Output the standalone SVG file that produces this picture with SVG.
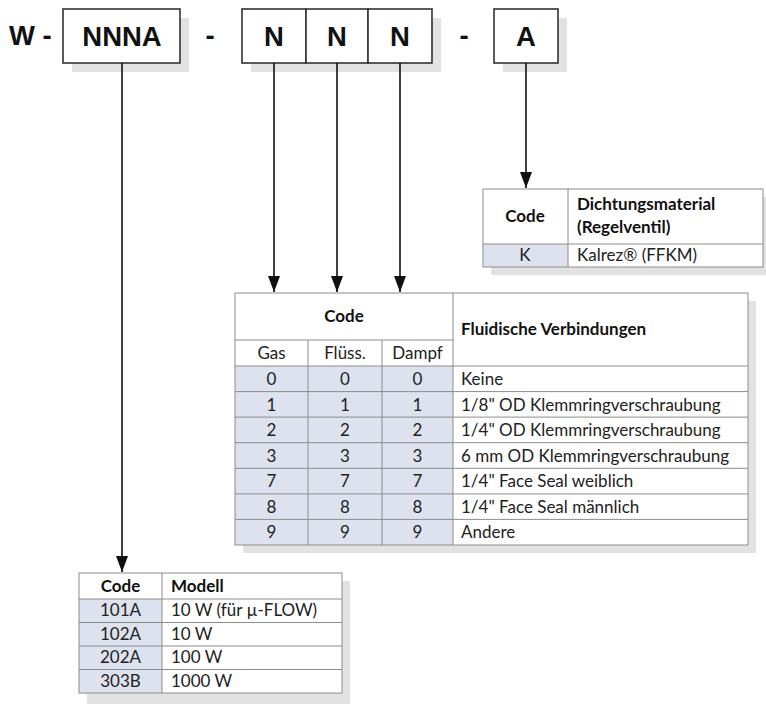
<svg xmlns="http://www.w3.org/2000/svg" width="766" height="704" viewBox="0 0 766 704">
  <defs>
    <marker id="arrow" viewBox="0 0 16 12" refX="16" refY="6" markerWidth="16" markerHeight="12" markerUnits="userSpaceOnUse" orient="auto">
      <path d="M0,0 L16,6 L0,12 Z" fill="#111"/>
    </marker>
  </defs>
  <style>
    .code-big { font-family: "Liberation Sans", Arial, sans-serif; font-weight: bold; font-size: 27.5px; fill: #111; }
    .box { fill: #fff; stroke: #333; stroke-width: 1.6; }
    .shadow { fill: #e2e2e2; }
    .grid { fill: none; stroke: #8c8c8c; stroke-width: 1; }
    .cell { fill: #fff; }
    .cell-code { fill: #dde2ee; }
    .t { font-family: Lato, "Open Sans", sans-serif; font-size: 17px; fill: #222; }
    .tb { font-family: Lato, "Open Sans", sans-serif; font-size: 17px; font-weight: bold; fill: #111; }
    .c { text-anchor: middle; }
    .conn { stroke: #111; stroke-width: 1.6; fill: none; marker-end: url(#arrow); }
  </style>
  <rect width="766" height="704" fill="#fff"/>

  <!-- order code header -->
  <g id="order-code">
    <text class="code-big" x="9" y="45">W -</text>
    <text class="code-big" x="210" y="45" text-anchor="middle">-</text>
    <text class="code-big" x="464" y="45" text-anchor="middle">-</text>
  </g>

  <g id="box-model">
    <rect class="shadow" x="72" y="18" width="117" height="54"/>
    <rect class="box" x="63" y="9" width="117" height="54"/>
    <text class="code-big c" x="122" y="45.5">NNNA</text>
  </g>

  <g id="box-fluid">
    <rect class="shadow" x="251" y="18" width="190" height="54"/>
    <rect class="box" x="242" y="9" width="64" height="54"/>
    <rect class="box" x="306" y="9" width="62" height="54"/>
    <rect class="box" x="368" y="9" width="64" height="54"/>
    <text class="code-big c" x="274" y="45.5">N</text>
    <text class="code-big c" x="337" y="45.5">N</text>
    <text class="code-big c" x="400" y="45.5">N</text>
  </g>

  <g id="box-seal">
    <rect class="shadow" x="503" y="18" width="64" height="54"/>
    <rect class="box" x="494" y="9" width="64" height="54"/>
    <text class="code-big c" x="526" y="45.5">A</text>
  </g>

  <!-- connectors -->
  <g id="connectors">
    <line class="conn" x1="122" y1="63" x2="122" y2="572"/>
    <line class="conn" x1="274" y1="63" x2="274" y2="292"/>
    <line class="conn" x1="337" y1="63" x2="337" y2="292"/>
    <line class="conn" x1="400" y1="63" x2="400" y2="292"/>
    <line class="conn" x1="526" y1="63" x2="526" y2="188"/>
  </g>

  <!-- seal material table -->
  <g id="table-seal">
    <rect class="shadow" x="491" y="197" width="275" height="78"/>
    <rect class="cell" x="483" y="189" width="280" height="78"/>
    <rect class="cell-code" x="483" y="244" width="85" height="23"/>
    <rect class="grid" x="483" y="189" width="280" height="78"/>
    <line class="grid" x1="568" y1="189" x2="568" y2="267"/>
    <line class="grid" x1="483" y1="244" x2="763" y2="244"/>
    <text class="tb c" x="525" y="222">Code</text>
    <text class="tb" x="577" y="210">Dichtungsmaterial</text>
    <text class="tb" x="577" y="233">(Regelventil)</text>
    <text class="t c" x="525" y="261">K</text>
    <text class="t" x="577" y="261">Kalrez® (FFKM)</text>
  </g>

  <!-- fluid connection table -->
  <g id="table-fluid">
    <rect class="shadow" x="243" y="301" width="513" height="252"/>
    <rect class="cell" x="235" y="293" width="513" height="252"/>
    <rect class="cell-code" x="235" y="366" width="218" height="179"/>
    <rect class="grid" x="235" y="293" width="513" height="252"/>
    <line class="grid" x1="453" y1="293" x2="453" y2="545"/>
    <line class="grid" x1="235" y1="340" x2="453" y2="340"/>
    <line class="grid" x1="308" y1="340" x2="308" y2="545"/>
    <line class="grid" x1="382" y1="340" x2="382" y2="545"/>
    <line class="grid" x1="235" y1="366" x2="748" y2="366"/>
    <line class="grid" x1="235" y1="391.6" x2="748" y2="391.6"/>
    <line class="grid" x1="235" y1="417.1" x2="748" y2="417.1"/>
    <line class="grid" x1="235" y1="442.7" x2="748" y2="442.7"/>
    <line class="grid" x1="235" y1="468.3" x2="748" y2="468.3"/>
    <line class="grid" x1="235" y1="493.9" x2="748" y2="493.9"/>
    <line class="grid" x1="235" y1="519.4" x2="748" y2="519.4"/>
    <text class="tb c" x="344" y="322">Code</text>
    <text class="tb" x="461" y="335">Fluidische Verbindungen</text>
    <text class="t c" x="271.5" y="359">Gas</text>
    <text class="t c" x="345" y="359">Flüss.</text>
    <text class="t c" x="417.5" y="359">Dampf</text>

    <text class="t c" x="271.5" y="385">0</text><text class="t c" x="345" y="385">0</text><text class="t c" x="417.5" y="385">0</text>
    <text class="t" x="461" y="385">Keine</text>
    <text class="t c" x="271.5" y="410.5">1</text><text class="t c" x="345" y="410.5">1</text><text class="t c" x="417.5" y="410.5">1</text>
    <text class="t" x="461" y="410.5">1/8" OD Klemmringverschraubung</text>
    <text class="t c" x="271.5" y="436">2</text><text class="t c" x="345" y="436">2</text><text class="t c" x="417.5" y="436">2</text>
    <text class="t" x="461" y="436">1/4" OD Klemmringverschraubung</text>
    <text class="t c" x="271.5" y="461.6">3</text><text class="t c" x="345" y="461.6">3</text><text class="t c" x="417.5" y="461.6">3</text>
    <text class="t" x="461" y="461.6">6 mm OD Klemmringverschraubung</text>
    <text class="t c" x="271.5" y="487.2">7</text><text class="t c" x="345" y="487.2">7</text><text class="t c" x="417.5" y="487.2">7</text>
    <text class="t" x="461" y="487.2">1/4" Face Seal weiblich</text>
    <text class="t c" x="271.5" y="512.8">8</text><text class="t c" x="345" y="512.8">8</text><text class="t c" x="417.5" y="512.8">8</text>
    <text class="t" x="461" y="512.8">1/4" Face Seal männlich</text>
    <text class="t c" x="271.5" y="538.3">9</text><text class="t c" x="345" y="538.3">9</text><text class="t c" x="417.5" y="538.3">9</text>
    <text class="t" x="461" y="538.3">Andere</text>
  </g>

  <!-- model table -->
  <g id="table-model">
    <rect class="shadow" x="87" y="581" width="263" height="123"/>
    <rect class="cell" x="79" y="573" width="263" height="120"/>
    <rect class="cell-code" x="79" y="599" width="83" height="94"/>
    <rect class="grid" x="79" y="573" width="263" height="120"/>
    <line class="grid" x1="162" y1="573" x2="162" y2="693"/>
    <line class="grid" x1="79" y1="599" x2="342" y2="599"/>
    <line class="grid" x1="79" y1="622.5" x2="342" y2="622.5"/>
    <line class="grid" x1="79" y1="646" x2="342" y2="646"/>
    <line class="grid" x1="79" y1="669.5" x2="342" y2="669.5"/>
    <text class="tb c" x="120.5" y="592">Code</text>
    <text class="tb" x="171" y="592">Modell</text>
    <text class="t c" x="120.5" y="616">101A</text>
    <text class="t" x="171" y="616">10 W (für µ-FLOW)</text>
    <text class="t c" x="120.5" y="640">102A</text>
    <text class="t" x="171" y="640">10 W</text>
    <text class="t c" x="120.5" y="663">202A</text>
    <text class="t" x="171" y="663">100 W</text>
    <text class="t c" x="120.5" y="687">303B</text>
    <text class="t" x="171" y="687">1000 W</text>
  </g>
</svg>
